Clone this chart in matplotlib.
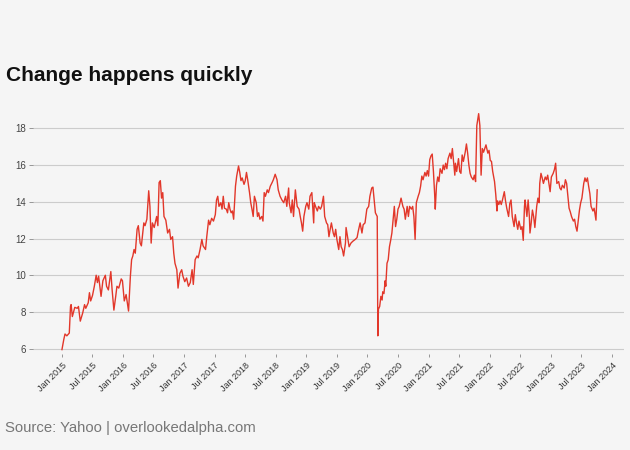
import numpy as np
import pandas as pd
import matplotlib
matplotlib.use("Agg")
import matplotlib.pyplot as plt
import matplotlib.dates as mdates

plt.rcParams['font.family'] = ['Liberation Sans', 'DejaVu Sans']

# time as decimal years and values
t_years = [
    2015.00, 2015.03, 2015.05, 2015.08, 2015.12, 2015.14, 2015.15, 2015.17, 2015.21, 2015.25,
    2015.27, 2015.30, 2015.34, 2015.37, 2015.39, 2015.43, 2015.45, 2015.47, 2015.50, 2015.53,
    2015.56, 2015.58, 2015.60, 2015.64, 2015.67, 2015.71, 2015.73, 2015.76, 2015.80, 2015.82,
    2015.85, 2015.88, 2015.90, 2015.93, 2015.97, 2015.99, 2016.02, 2016.05, 2016.09, 2016.12,
    2016.14, 2016.16, 2016.18, 2016.20, 2016.23, 2016.25, 2016.28, 2016.30, 2016.34, 2016.36,
    2016.39, 2016.42, 2016.44, 2016.46, 2016.48, 2016.51, 2016.55, 2016.57, 2016.59, 2016.61,
    2016.63, 2016.65, 2016.67, 2016.70, 2016.73, 2016.76, 2016.78, 2016.81, 2016.83, 2016.85,
    2016.88, 2016.90, 2016.93, 2016.96, 2016.98, 2017.01, 2017.04, 2017.07, 2017.10, 2017.13,
    2017.15, 2017.18, 2017.21, 2017.23, 2017.26, 2017.29, 2017.31, 2017.35, 2017.37, 2017.40,
    2017.42, 2017.45, 2017.48, 2017.51, 2017.53, 2017.55, 2017.57, 2017.60, 2017.62, 2017.64,
    2017.66, 2017.69, 2017.71, 2017.73, 2017.75, 2017.77, 2017.79, 2017.81, 2017.84, 2017.86,
    2017.89, 2017.91, 2017.93, 2017.95, 2017.98, 2018.00, 2018.02, 2018.04, 2018.07, 2018.09,
    2018.11, 2018.13, 2018.15, 2018.18, 2018.20, 2018.22, 2018.24, 2018.27, 2018.29, 2018.31,
    2018.33, 2018.36, 2018.38, 2018.41, 2018.44, 2018.46, 2018.49, 2018.52, 2018.54, 2018.57,
    2018.60, 2018.63, 2018.66, 2018.68, 2018.71, 2018.72, 2018.75, 2018.77, 2018.79, 2018.82,
    2018.85, 2018.88, 2018.90, 2018.92, 2018.94, 2018.96, 2018.99, 2019.01, 2019.04, 2019.06,
    2019.09, 2019.12, 2019.13, 2019.15, 2019.18, 2019.20, 2019.23, 2019.25, 2019.28, 2019.30,
    2019.33, 2019.35, 2019.37, 2019.39, 2019.41, 2019.44, 2019.46, 2019.48, 2019.50, 2019.53,
    2019.55, 2019.57, 2019.59, 2019.61, 2019.64, 2019.65, 2019.68, 2019.70, 2019.73, 2019.76,
    2019.80, 2019.83, 2019.85, 2019.88, 2019.91, 2019.93, 2019.96, 2019.99, 2020.02, 2020.04,
    2020.07, 2020.09, 2020.11, 2020.13, 2020.16, 2020.17, 2020.18, 2020.20, 2020.22, 2020.24,
    2020.25, 2020.27, 2020.29, 2020.30, 2020.32, 2020.34, 2020.36, 2020.38, 2020.40, 2020.42,
    2020.44, 2020.46, 2020.48, 2020.50, 2020.52, 2020.55, 2020.58, 2020.60, 2020.62, 2020.65,
    2020.67, 2020.69, 2020.72, 2020.74, 2020.76, 2020.78, 2020.80, 2020.83, 2020.85, 2020.87,
    2020.89, 2020.91, 2020.94, 2020.96, 2020.98, 2021.00, 2021.02, 2021.04, 2021.06, 2021.08,
    2021.10, 2021.11, 2021.13, 2021.15, 2021.17, 2021.19, 2021.22, 2021.24, 2021.26, 2021.28,
    2021.30, 2021.32, 2021.35, 2021.37, 2021.39, 2021.41, 2021.43, 2021.44, 2021.46, 2021.49,
    2021.51, 2021.53, 2021.55, 2021.57, 2021.60, 2021.62, 2021.64, 2021.66, 2021.68, 2021.70,
    2021.73, 2021.75, 2021.77, 2021.79, 2021.82, 2021.84, 2021.86, 2021.88, 2021.90, 2021.92,
    2021.94, 2021.97, 2021.99, 2022.01, 2022.03, 2022.05, 2022.08, 2022.10, 2022.12, 2022.13,
    2022.15, 2022.17, 2022.19, 2022.21, 2022.24, 2022.26, 2022.28, 2022.31, 2022.33, 2022.35,
    2022.37, 2022.40, 2022.42, 2022.44, 2022.46, 2022.48, 2022.51, 2022.53, 2022.55, 2022.57,
    2022.58, 2022.61, 2022.63, 2022.65, 2022.66, 2022.68, 2022.70, 2022.72, 2022.74, 2022.77,
    2022.79, 2022.81, 2022.82, 2022.84, 2022.86, 2022.88, 2022.91, 2022.93, 2022.95, 2022.97,
    2022.99, 2023.01, 2023.04, 2023.06, 2023.08, 2023.10, 2023.13, 2023.15, 2023.17, 2023.19,
    2023.22, 2023.24, 2023.26, 2023.28, 2023.30, 2023.32, 2023.34, 2023.37, 2023.39, 2023.41,
    2023.43, 2023.45, 2023.47, 2023.49, 2023.51, 2023.54, 2023.56, 2023.58, 2023.60, 2023.62,
    2023.64, 2023.66, 2023.69, 2023.71, 2023.73, 2023.74, 2023.76,
]
values = [
    5.95, 6.5, 6.8, 6.7, 6.85, 8.3, 8.4, 7.75, 8.25, 8.2,
    8.3, 7.5, 7.95, 8.4, 8.2, 8.5, 9.05, 8.6, 8.9, 9.4,
    10.0, 9.6, 9.95, 8.85, 9.7, 10.0, 9.4, 9.2, 10.2, 9.25,
    8.1, 8.85, 9.4, 9.3, 9.8, 9.7, 8.6, 8.95, 8.05, 9.95,
    10.85, 11.05, 11.4, 11.2, 12.5, 12.7, 11.75, 11.6, 12.85, 12.7,
    13.05, 14.6, 13.75, 11.75, 12.85, 12.6, 13.2, 12.7, 15.05, 15.15,
    14.2, 14.5, 13.2, 13.0, 12.3, 12.5, 11.95, 12.1, 11.2, 10.65,
    10.3, 9.3, 10.1, 10.3, 9.95, 9.65, 9.85, 9.4, 9.6, 10.3,
    9.5, 10.85, 11.05, 10.95, 11.4, 11.95, 11.6, 11.4, 12.1, 13.0,
    12.75, 13.1, 12.95, 13.3, 14.1, 14.3, 13.75, 13.95, 13.6, 14.3,
    13.65, 13.6, 13.4, 13.95, 13.6, 13.4, 13.5, 13.05, 14.85, 15.4,
    15.95, 15.6, 15.15, 15.3, 14.95, 15.15, 15.6, 15.2, 14.5, 13.95,
    13.6, 13.2, 14.3, 13.95, 13.2, 13.4, 13.05, 13.2, 12.95, 14.5,
    14.3, 14.65, 14.5, 14.85, 15.05, 15.2, 15.5, 15.2, 14.65, 14.3,
    14.1, 13.95, 14.3, 13.75, 14.75, 13.95, 13.4, 14.1, 13.2, 14.65,
    13.75, 13.6, 13.2, 12.85, 12.4, 13.2, 13.75, 13.95, 13.6, 14.3,
    14.5, 12.85, 13.95, 13.75, 13.5, 13.75, 13.6, 13.75, 14.3, 13.2,
    12.85, 12.75, 12.1, 12.5, 12.85, 12.3, 12.1, 12.5, 11.95, 11.4,
    12.1, 11.55, 11.4, 11.05, 11.75, 12.6, 11.95, 11.55, 11.75, 11.85,
    11.95, 12.05, 12.4, 12.85, 12.3, 12.75, 12.85, 13.6, 13.75, 14.3,
    14.75, 14.8, 14.1, 13.4, 13.2, 6.7, 8.15, 8.3, 8.85, 8.65,
    9.1, 9.0, 9.7, 9.4, 10.65, 10.85, 11.55, 11.9, 12.3, 13.05,
    13.75, 12.65, 13.05, 13.6, 13.75, 14.2, 13.75, 13.6, 13.05, 13.75,
    13.2, 13.75, 13.6, 13.75, 13.2, 11.95, 13.95, 14.3, 14.5, 14.85,
    15.4, 15.2, 15.6, 15.4, 15.7, 15.4, 16.3, 16.5, 16.6, 15.65,
    14.4, 13.6, 14.9, 15.35, 15.1, 15.8, 15.55, 16.0, 15.75, 16.1,
    15.8, 16.35, 16.65, 16.35, 16.9, 16.2, 15.45, 16.1, 15.65, 16.35,
    15.65, 15.55, 16.55, 16.2, 16.7, 17.15, 16.65, 16.0, 15.55, 15.35,
    15.2, 15.45, 15.1, 18.15, 18.8, 18.15, 15.45, 16.9, 16.7, 16.9,
    17.1, 16.65, 16.8, 16.25, 16.2, 15.65, 15.1, 14.4, 13.5, 14.05,
    13.85, 14.05, 13.85, 14.1, 14.55, 14.05, 13.65, 13.2, 13.9, 14.1,
    13.2, 12.65, 13.3, 12.85, 12.5, 12.95, 12.5, 12.65, 11.9, 13.75,
    14.1, 13.2, 14.1, 13.2, 12.3, 12.85, 13.55, 13.2, 12.6, 13.75,
    14.2, 13.95, 15.0, 15.55, 15.3, 15.0, 15.35, 15.2, 15.45, 15.0,
    14.55, 15.35, 15.55, 15.75, 16.1, 15.0, 15.1, 14.75, 14.65, 14.9,
    14.75, 15.2, 15.0, 14.3, 13.65, 13.45, 13.2, 12.95, 13.05, 12.65,
    12.4, 12.95, 13.55, 13.95, 14.2, 15.0, 15.3, 15.1, 15.3, 14.85,
    14.45, 13.75, 13.5, 13.65, 13.2, 13.0, 14.65,
]
y_ticks = [6, 8, 10, 12, 14, 16, 18]

title = "Change happens quickly"
source = "Source: Yahoo | overlookedalpha.com"

base = pd.Timestamp("2015-01-01")
dates = base + pd.to_timedelta((np.array(t_years) - 2015.0) * 365.25, unit="D")

bg = "#f5f5f5"
fig = plt.figure(figsize=(6.3, 4.5), dpi=100, facecolor=bg)
ax = fig.add_axes([0.0524, 0.2129, 0.9381, 0.5427], facecolor=bg)

ax.plot(dates, values, color="#e2372a", lw=1.0, zorder=3)

ax.set_xlim(pd.Timestamp("2014-07-12"), pd.Timestamp("2024-03-14"))
ax.set_ylim(5.7, 19.0)
ax.set_yticks(y_ticks)
ax.yaxis.grid(True, color="#cccccc", lw=0.8)
ax.xaxis.grid(False)
for s in ax.spines.values():
    s.set_visible(False)

ax.xaxis.set_major_locator(mdates.MonthLocator(bymonth=[1, 7]))
ax.xaxis.set_major_formatter(mdates.DateFormatter("%b %Y"))
ax.tick_params(axis="x", length=2.5, width=0.6, color="#888888", labelsize=6.5,
               labelcolor="#333333", pad=2)
ax.tick_params(axis="y", length=3, width=0.6, color="#888888", labelsize=7,
               labelcolor="#444444", pad=2)
for lab in ax.get_xticklabels():
    lab.set_rotation(45)
    lab.set_ha("right")
    lab.set_rotation_mode("anchor")

fig.text(0.009, 0.8207, title, fontsize=15, fontweight="bold", color="#111111",
         ha="left", va="baseline")
fig.text(0.008, 0.040, source, fontsize=10.7, color="#777777",
         ha="left", va="baseline")

fig.savefig("out.png", dpi=100, facecolor=bg)
